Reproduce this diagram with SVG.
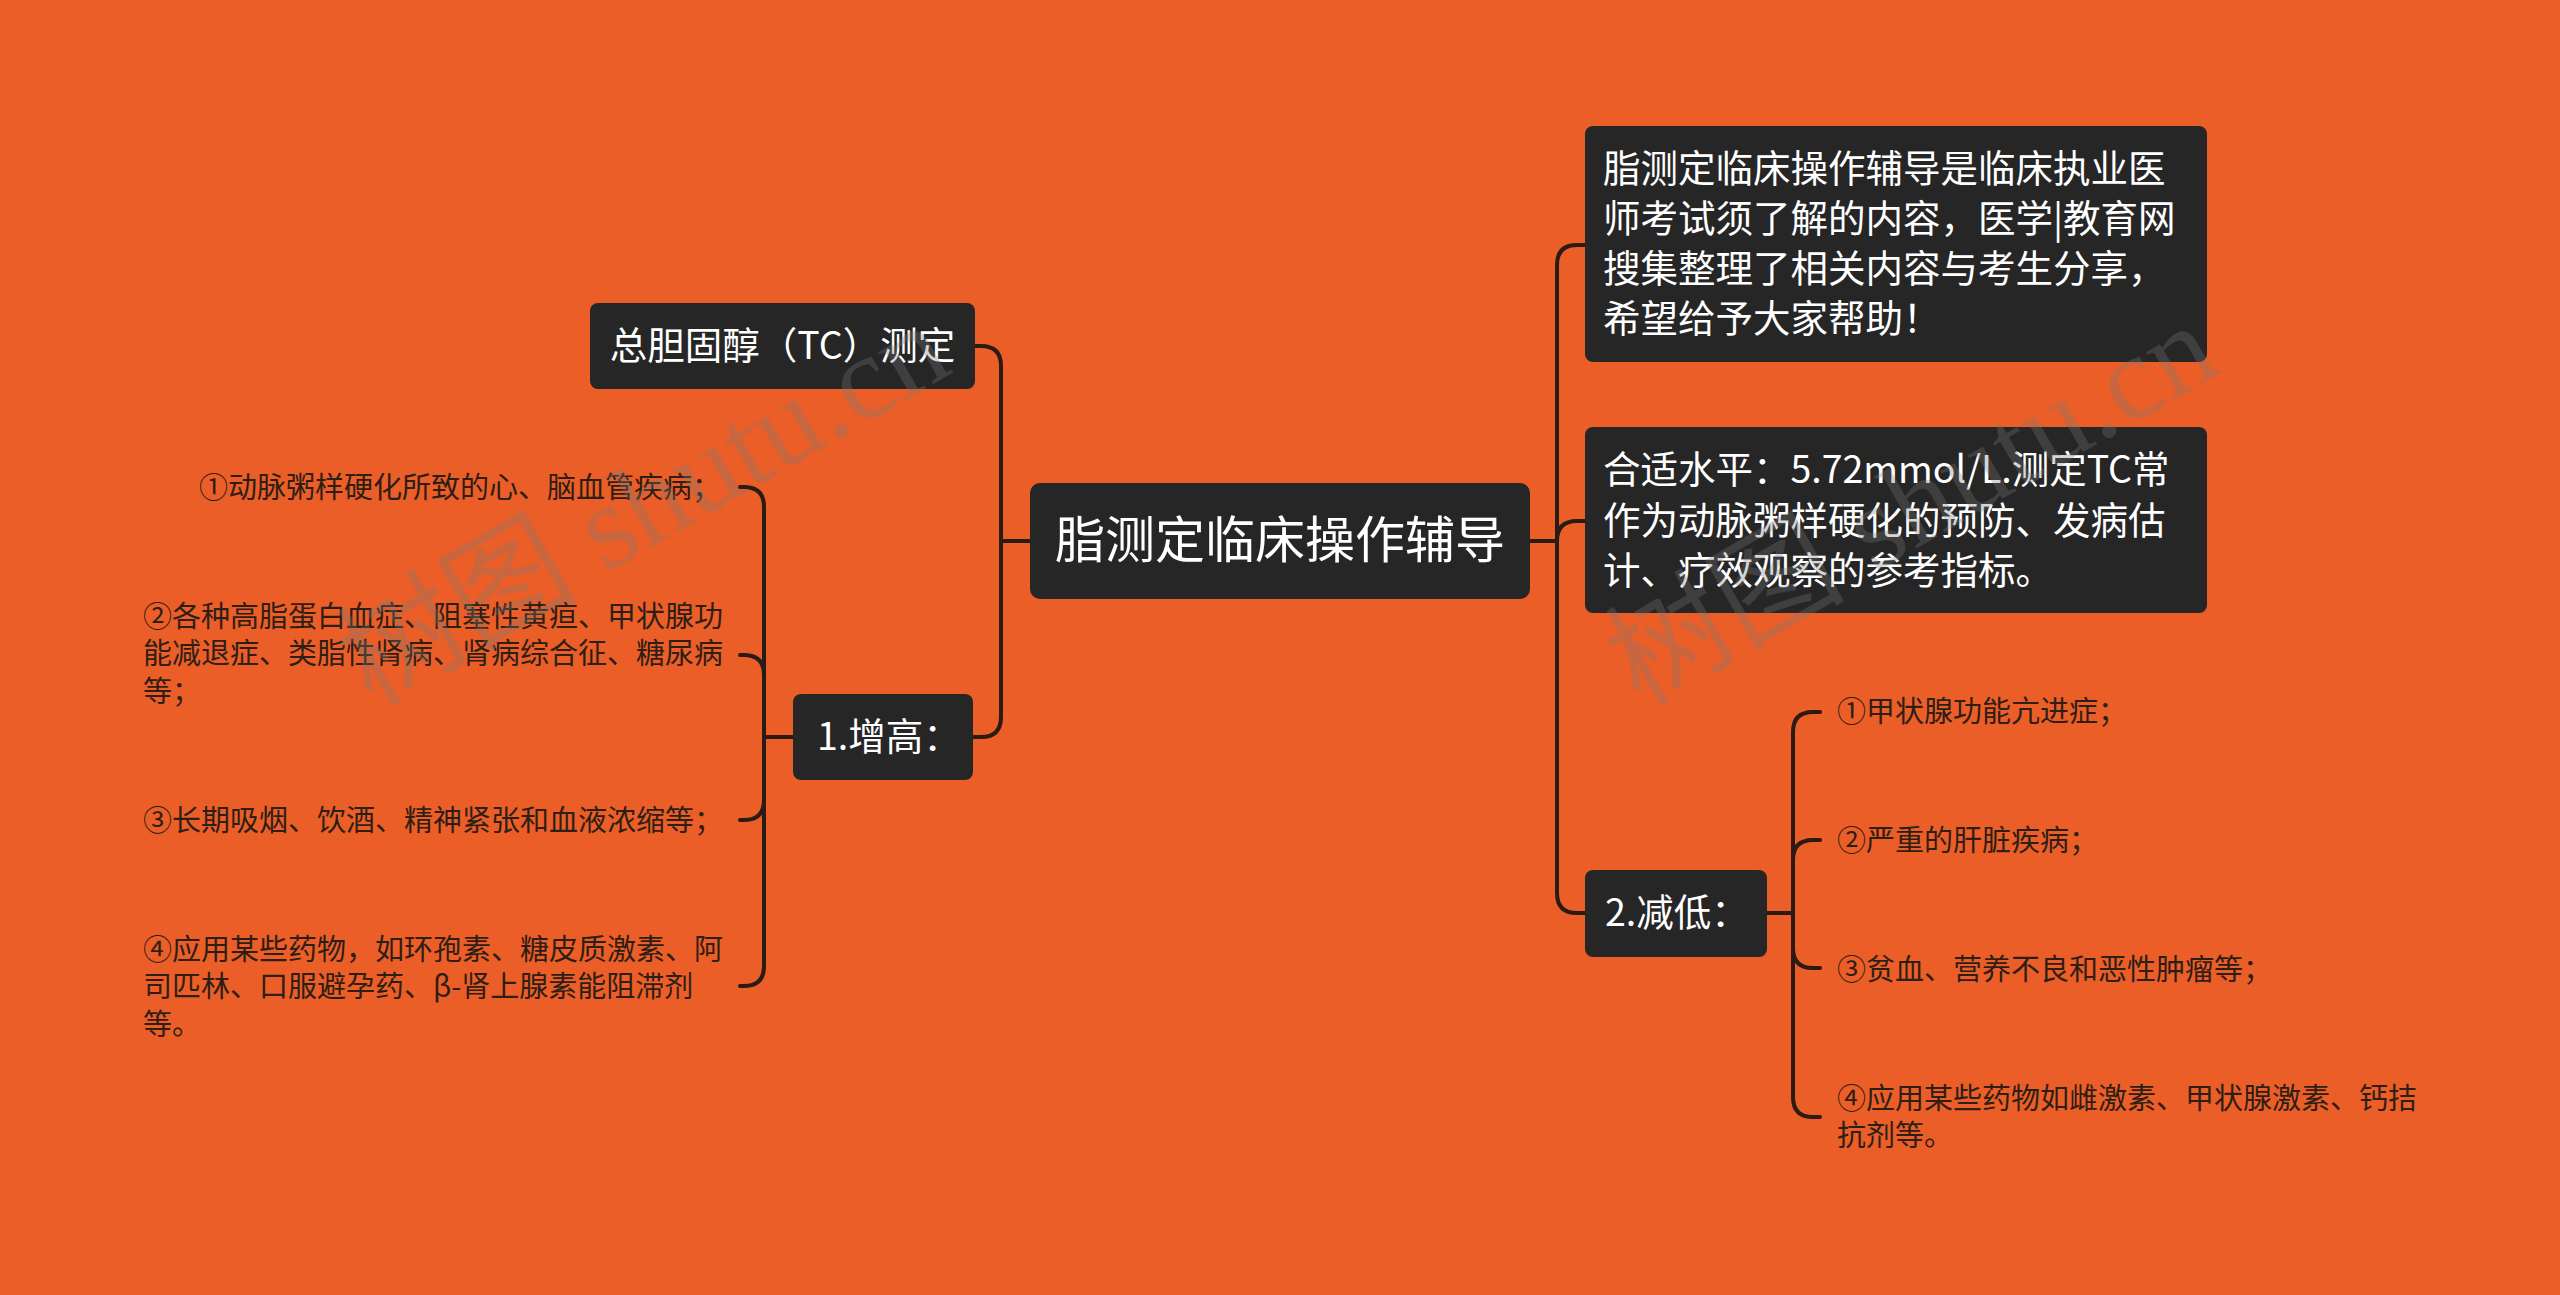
<svg xmlns="http://www.w3.org/2000/svg" width="2560" height="1295" viewBox="0 0 2560 1295">
<style>
.bg{fill:#EB5E28}
.box{fill:#262626}
.nt{fill:#ffffff;font-family:"Noto Sans CJK SC","Noto Sans",sans-serif}
.lt{fill:#2e1e16;font-family:"Noto Sans CJK SC","Noto Sans",sans-serif;font-size:29px}
.c{fill:none;stroke:#2a1b15;stroke-width:4;stroke-linecap:round;stroke-linejoin:round}
.wm{fill:#7a7a7a;opacity:0.3;font-family:"Liberation Serif","Noto Sans CJK SC",serif;font-size:120px}
</style>
<rect class="bg" x="0" y="0" width="2560" height="1295"/>
<g id="connectors">
<path class="c" d="M1030,541 H1001 V366 Q1001,346 981,346 H975"/>
<path class="c" d="M1030,541 H1001 V717 Q1001,737 981,737 H973"/>
<path class="c" d="M1530,541 H1557 V265 Q1557,245 1577,245 H1585"/>
<path class="c" d="M1530,541 H1557 Q1557,521 1577,521 H1585"/>
<path class="c" d="M1530,541 H1557 V893 Q1557,913 1577,913 H1585"/>
<path class="c" d="M1767,913 H1793 V732 Q1793,712 1813,712 H1820"/>
<path class="c" d="M1767,913 H1793 V860 Q1793,840 1813,840 H1820"/>
<path class="c" d="M1767,913 H1793 V948 Q1793,968 1813,968 H1820"/>
<path class="c" d="M1767,913 H1793 V1097 Q1793,1117 1813,1117 H1820"/>
<path class="c" d="M793,737 H764 V507 Q764,487 744,487 H740"/>
<path class="c" d="M793,737 H764 V675 Q764,655 744,655 H740"/>
<path class="c" d="M793,737 H764 V800 Q764,820 744,820 H740"/>
<path class="c" d="M793,737 H764 V966 Q764,986 744,986 H740"/>
</g>
<g id="root">
<rect class="box" x="1030" y="483" width="500" height="116" rx="10"/>
<text class="nt" x="1280" y="558" font-size="50" text-anchor="middle">脂测定临床操作辅导</text>
</g>
<g id="tc">
<rect class="box" x="590" y="303" width="385" height="86" rx="8"/>
<text class="nt" x="782.5" y="359" font-size="37.5" text-anchor="middle">总胆固醇（TC）测定</text>
</g>
<g id="up">
<rect class="box" x="793" y="694" width="180" height="86" rx="8"/>
<text class="nt" x="817" y="750" font-size="37.5">1.增高：</text>
</g>
<g id="intro">
<rect class="box" x="1585" y="126" width="622" height="236" rx="8"/>
<text class="nt" font-size="37.5"><tspan x="1603" y="182">脂测定临床操作辅导是临床执业医</tspan><tspan x="1603" y="232">师考试须了解的内容，医学|教育网</tspan><tspan x="1603" y="282">搜集整理了相关内容与考生分享，</tspan><tspan x="1603" y="332">希望给予大家帮助！</tspan></text>
</g>
<g id="level">
<rect class="box" x="1585" y="427" width="622" height="186" rx="8"/>
<text class="nt" font-size="37.5"><tspan x="1603" y="483">合适水平：5.72mmol/L.测定TC常</tspan><tspan x="1603" y="534">作为动脉粥样硬化的预防、发病估</tspan><tspan x="1603" y="584">计、疗效观察的参考指标。</tspan></text>
</g>
<g id="down">
<rect class="box" x="1585" y="870" width="182" height="87" rx="8"/>
<text class="nt" x="1605" y="926" font-size="37.5">2.减低：</text>
</g>
<g id="up1"><text class="lt" x="199" y="498">①动脉粥样硬化所致的心、脑血管疾病；</text></g>
<g id="up2"><text class="lt"><tspan x="143" y="627">②各种高脂蛋白血症、阻塞性黄疸、甲状腺功</tspan><tspan x="143" y="664">能减退症、类脂性肾病、肾病综合征、糖尿病</tspan><tspan x="143" y="702">等；</tspan></text></g>
<g id="up3"><text class="lt" x="143" y="831">③长期吸烟、饮酒、精神紧张和血液浓缩等；</text></g>
<g id="up4"><text class="lt"><tspan x="143" y="960">④应用某些药物，如环孢素、糖皮质激素、阿</tspan><tspan x="143" y="997">司匹林、口服避孕药、β-肾上腺素能阻滞剂</tspan><tspan x="143" y="1035">等。</tspan></text></g>
<g id="down1"><text class="lt" x="1837" y="722">①甲状腺功能亢进症；</text></g>
<g id="down2"><text class="lt" x="1837" y="851">②严重的肝脏疾病；</text></g>
<g id="down3"><text class="lt" x="1837" y="980">③贫血、营养不良和恶性肿瘤等；</text></g>
<g id="down4"><text class="lt"><tspan x="1837" y="1109">④应用某些药物如雌激素、甲状腺激素、钙拮</tspan><tspan x="1837" y="1146">抗剂等。</tspan></text></g>
<g id="watermark">
<text class="wm" x="372" y="708" transform="rotate(-30 372 708)">树图 shutu.cn</text>
<text class="wm" x="1640" y="708" transform="rotate(-30 1640 708)">树图 shutu.cn</text>
</g>
</svg>
